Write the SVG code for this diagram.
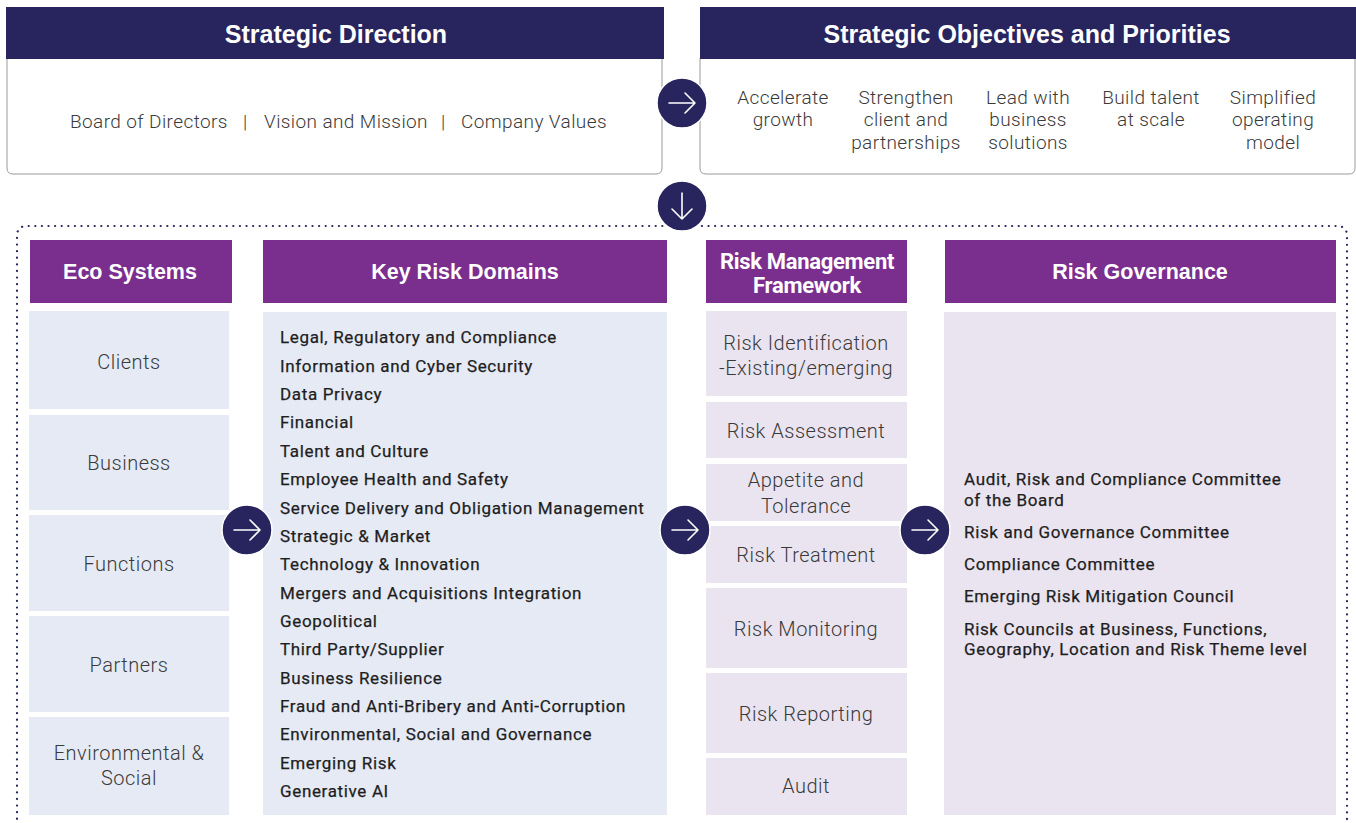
<svg xmlns="http://www.w3.org/2000/svg" xmlns:xlink="http://www.w3.org/1999/xlink" width="1356" height="823" viewBox="0 0 1356 823">
<style>
.navy{fill:#28245e}
.purple{fill:#7a2f8f}
.blue{fill:#e6eaf5}
.lav{fill:#eae4f0}
.body{fill:#ffffff;stroke:#9a9a9a;stroke-width:1}
.h1{font-family:"Liberation Sans",Arial,sans-serif;font-weight:bold;font-size:25px;fill:#ffffff;text-anchor:middle}
.h2{font-family:"Liberation Sans",Arial,sans-serif;font-weight:bold;font-size:21.5px;fill:#ffffff;text-anchor:middle}
.h3{font-family:"Roboto","Liberation Sans",sans-serif;font-weight:bold;font-size:22px;fill:#ffffff;text-anchor:middle;letter-spacing:-0.3px}
.lt{font-family:"Roboto","Liberation Sans",sans-serif;font-weight:300;font-size:19px;fill:#3a3a3a;letter-spacing:0.4px}
.obj{font-family:"Roboto","Liberation Sans",sans-serif;font-weight:300;font-size:19px;fill:#3a3a3a;text-anchor:middle;letter-spacing:0.4px}
.ltc{font-family:"Roboto","Liberation Sans",sans-serif;font-weight:300;font-size:20px;fill:#3a3a3a;text-anchor:middle;letter-spacing:0.5px}
.md{font-family:"Roboto","Liberation Sans",sans-serif;font-weight:400;font-size:17px;fill:#1e1e1e;letter-spacing:0.65px;stroke:#1e1e1e;stroke-width:0.25px}
.dots{fill:none;stroke:#28245e;stroke-width:2.2;stroke-dasharray:0.1 6.5;stroke-linecap:round}
.circ{fill:#28245e;stroke:#ffffff;stroke-width:1.5}
.arr{fill:none;stroke:#ffffff;stroke-width:1.6;stroke-linecap:round;stroke-linejoin:round}
</style>
<defs>
<g id="arrowR">
<circle class="circ" cx="0" cy="0" r="25"/>
<path class="arr" d="M-13,0 H13 M3,-10 L13,0 L3,10"/>
</g>
<g id="arrowD">
<circle class="circ" cx="0" cy="0" r="25"/>
<path class="arr" d="M0,-13 V13 M-10,3 L0,13 L10,3"/>
</g>
</defs>
<rect width="1356" height="823" fill="#ffffff"/>

<g id="outer-frame">
<path class="dots" d="M17,832 V236 Q17,226 27,226 H1337 Q1347,226 1347,236 V832"/>
</g>

<g id="strategic-direction">
<path class="body" d="M7,58 H662 V168 Q662,174 656,174 H13 Q7,174 7,168 Z"/>
<rect class="navy" x="6" y="7" width="658" height="52"/>
<text class="h1" x="336" y="43">Strategic Direction</text>
<text class="lt" x="70" y="128">Board of Directors</text>
<text class="lt" x="243" y="128">|</text>
<text class="lt" x="264" y="128">Vision and Mission</text>
<text class="lt" x="441" y="128">|</text>
<text class="lt" x="461" y="128">Company Values</text>
</g>

<g id="strategic-objectives">
<path class="body" d="M700,58 H1355 V168 Q1355,174 1349,174 H706 Q700,174 700,168 Z"/>
<rect class="navy" x="700" y="7" width="656" height="52"/>
<text class="h1" x="1027" y="43">Strategic Objectives and Priorities</text>
<text class="obj" x="783" y="104">Accelerate</text>
<text class="obj" x="783" y="126">growth</text>
<text class="obj" x="906" y="104">Strengthen</text>
<text class="obj" x="906" y="126">client and</text>
<text class="obj" x="906" y="149">partnerships</text>
<text class="obj" x="1028" y="104">Lead with</text>
<text class="obj" x="1028" y="126">business</text>
<text class="obj" x="1028" y="149">solutions</text>
<text class="obj" x="1151" y="104">Build talent</text>
<text class="obj" x="1151" y="126">at scale</text>
<text class="obj" x="1273" y="104">Simplified</text>
<text class="obj" x="1273" y="126">operating</text>
<text class="obj" x="1273" y="149">model</text>
</g>

<g id="eco-systems">
<rect class="purple" x="30" y="240" width="202" height="63"/>
<text class="h2" x="130" y="279">Eco Systems</text>
<rect class="blue" x="29" y="311" width="200" height="98"/>
<text class="ltc" x="129" y="369">Clients</text>
<rect class="blue" x="29" y="415" width="200" height="95"/>
<text class="ltc" x="129" y="470">Business</text>
<rect class="blue" x="29" y="515" width="200" height="96"/>
<text class="ltc" x="129" y="571">Functions</text>
<rect class="blue" x="29" y="616" width="200" height="96"/>
<text class="ltc" x="129" y="672">Partners</text>
<rect class="blue" x="29" y="717" width="200" height="98"/>
<text class="ltc" x="129" y="760">Environmental &amp;</text>
<text class="ltc" x="129" y="785">Social</text>
</g>

<g id="key-risk-domains">
<rect class="purple" x="263" y="240" width="404" height="63"/>
<text class="h2" x="465" y="279">Key Risk Domains</text>
<rect class="blue" x="263" y="312" width="404" height="503"/>
<text class="md" x="280" y="343">Legal, Regulatory and Compliance</text>
<text class="md" x="280" y="372">Information and Cyber Security</text>
<text class="md" x="280" y="400">Data Privacy</text>
<text class="md" x="280" y="428">Financial</text>
<text class="md" x="280" y="457">Talent and Culture</text>
<text class="md" x="280" y="485">Employee Health and Safety</text>
<text class="md" x="280" y="514">Service Delivery and Obligation Management</text>
<text class="md" x="280" y="542">Strategic &amp; Market</text>
<text class="md" x="280" y="570">Technology &amp; Innovation</text>
<text class="md" x="280" y="599">Mergers and Acquisitions Integration</text>
<text class="md" x="280" y="627">Geopolitical</text>
<text class="md" x="280" y="655">Third Party/Supplier</text>
<text class="md" x="280" y="684">Business Resilience</text>
<text class="md" x="280" y="712">Fraud and Anti-Bribery and Anti-Corruption</text>
<text class="md" x="280" y="740">Environmental, Social and Governance</text>
<text class="md" x="280" y="769">Emerging Risk</text>
<text class="md" x="280" y="797">Generative AI</text>
</g>

<g id="risk-management-framework">
<rect class="purple" x="706" y="240" width="201" height="63"/>
<text class="h3" x="807" y="269">Risk Management</text>
<text class="h3" x="807" y="293">Framework</text>
<rect class="lav" x="706" y="311" width="201" height="85"/>
<text class="ltc" x="806" y="350">Risk Identification</text>
<text class="ltc" x="806" y="375">-Existing/emerging</text>
<rect class="lav" x="706" y="402" width="201" height="56"/>
<text class="ltc" x="806" y="438">Risk Assessment</text>
<rect class="lav" x="706" y="464" width="201" height="57"/>
<text class="ltc" x="806" y="487">Appetite and</text>
<text class="ltc" x="806" y="513">Tolerance</text>
<rect class="lav" x="706" y="526" width="201" height="57"/>
<text class="ltc" x="806" y="562">Risk Treatment</text>
<rect class="lav" x="706" y="588" width="201" height="80"/>
<text class="ltc" x="806" y="636">Risk Monitoring</text>
<rect class="lav" x="706" y="673" width="201" height="80"/>
<text class="ltc" x="806" y="721">Risk Reporting</text>
<rect class="lav" x="706" y="758" width="201" height="57"/>
<text class="ltc" x="806" y="793">Audit</text>
</g>

<g id="risk-governance">
<rect class="purple" x="945" y="240" width="391" height="63"/>
<text class="h2" x="1140" y="279">Risk Governance</text>
<rect class="lav" x="944" y="312" width="392" height="503"/>
<text class="md" x="964" y="485">Audit, Risk and Compliance Committee</text>
<text class="md" x="964" y="506">of the Board</text>
<text class="md" x="964" y="538">Risk and Governance Committee</text>
<text class="md" x="964" y="570">Compliance Committee</text>
<text class="md" x="964" y="602">Emerging Risk Mitigation Council</text>
<text class="md" x="964" y="635">Risk Councils at Business, Functions,</text>
<text class="md" x="964" y="655">Geography, Location and Risk Theme level</text>
</g>

<g id="connectors">
<use xlink:href="#arrowR" x="682" y="103"/>
<use xlink:href="#arrowD" x="682" y="206"/>
<use xlink:href="#arrowR" x="247" y="530"/>
<use xlink:href="#arrowR" x="685" y="530"/>
<use xlink:href="#arrowR" x="925" y="530"/>
</g>
</svg>
